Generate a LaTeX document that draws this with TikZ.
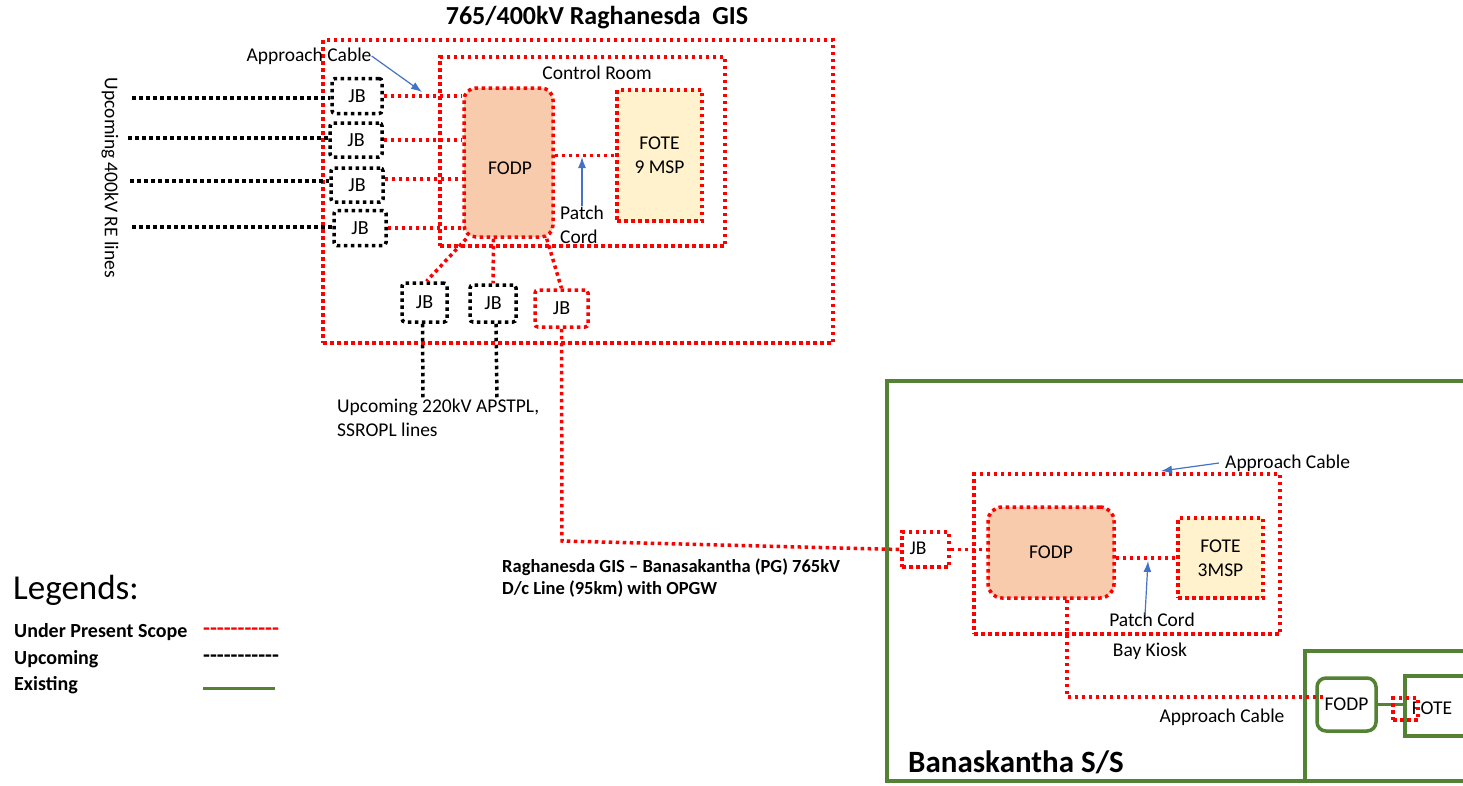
\documentclass[tikz,border=0pt]{standalone}
\usepackage{fontspec}
\setmainfont{Carlito}
\usetikzlibrary{arrows.meta}
\definecolor{exgreen}{HTML}{548235}
\definecolor{peach}{HTML}{F8CBAD}
\definecolor{cream}{HTML}{FFF2CC}
\definecolor{arrowblue}{HTML}{4472C4}
\begin{document}
\begin{tikzpicture}[x=1pt,y=-1pt,
  reddot/.style={draw=red,line width=3.5pt,dash pattern=on 3.5pt off 3.5pt},
  blkdot/.style={draw=black,line width=3.5pt,dash pattern=on 3.5pt off 3.5pt},
  exline/.style={draw=exgreen,line width=3.5pt},
  lbl/.style={inner sep=0pt,font=\fontsize{19.5}{24}\selectfont},
  boldlbl/.style={inner sep=0pt,font=\bfseries\fontsize{18.5}{22}\selectfont},
  legtxt/.style={inner sep=0pt,anchor=west,font=\bfseries\fontsize{20}{24}\selectfont},
  bluearrow/.style={draw=arrowblue,line width=1.2pt,-{Latex[length=11pt,width=8pt]}},
  jbbox/.style={inner sep=0pt,rounded corners=3pt,font=\fontsize{20}{24}\selectfont},
  sz/.style 2 args={minimum width=#1,minimum height=#2}
]
\useasboundingbox (0,0) rectangle (1463,785);
\clip (0,0) rectangle (1463,785);

% ---------- Raghanesda GIS ----------
\node[inner sep=0pt,font=\bfseries\fontsize{26}{30}\selectfont] (title) at (597,18) {765/400kV Raghanesda\ \ GIS};
\node[reddot,sz={510pt}{303pt},inner sep=0pt] (outer) at (578,191.5) {};
\node[reddot,sz={285pt}{189pt},inner sep=0pt] (cr) at (582.5,151.5) {};
\node[lbl] (crlbl) at (597,73) {Control Room};

\node[reddot,fill=peach,rounded corners=12pt,sz={89pt}{149pt},inner sep=0pt] (fodp) at (508.5,162.5) {};
\node[lbl] (fodpt) at (510,168) {FODP};
\node[reddot,fill=cream,sz={85pt}{131pt},inner sep=0pt,align=center,font=\fontsize{19.5}{24}\selectfont] (fote) at (659.5,155.5) {FOTE\\9 MSP};
\draw[reddot] (fodp.east |- fote.west) -- (fote.west);
\node[lbl,align=left] (pc1) at (582,225) {Patch\\Cord};
\coordinate (pc1tip) at (582,157);
\draw[bluearrow] (pc1.north) -- (pc1tip);

% left junction boxes
\node[jbbox,blkdot,sz={50pt}{35pt}] (jb1) at (357,96) {JB};
\node[jbbox,blkdot,sz={52pt}{34pt}] (jb2) at (356,140) {JB};
\node[jbbox,blkdot,sz={52pt}{34pt}] (jb3) at (357,185) {JB};
\node[jbbox,blkdot,sz={52pt}{35pt}] (jb4) at (360,228) {JB};

\coordinate (l1) at (132,98);
\coordinate (l2) at (128,138);
\coordinate (l3) at (130,181);
\coordinate (l4) at (132,227);
\draw[blkdot] (l1) -- (l1 -| jb1.west);
\draw[blkdot] (l2) -- (l2 -| jb2.west);
\draw[blkdot] (l3) -- (l3 -| jb3.west);
\draw[blkdot] (l4) -- (l4 -| jb4.west);

\draw[reddot] (jb1.east) -- (jb1.east -| fodp.west);
\draw[reddot] (jb2.east) -- (jb2.east -| fodp.west);
\draw[reddot] (jb3.east |- 0,179) -- (fodp.west |- 0,179);
\draw[reddot] (jb4.east) -- (jb4.east -| fodp.west);

\node[lbl,rotate=-90] (up400) at (110,178) {Upcoming 400kV RE lines};

\node[lbl] (ac1) at (309,56) {Approach Cable};
\coordinate (ac1tip) at (422,92);
\draw[bluearrow] (ac1.east) -- (ac1tip);

% bottom junction boxes
\node[jbbox,blkdot,sz={45pt}{39pt}] (jb5) at (424.5,302.5) {JB};
\node[jbbox,blkdot,sz={46pt}{37pt}] (jb6) at (493,303.5) {JB};
\node[jbbox,reddot,sz={53pt}{37pt}] (jb7) at (561.5,308.5) {JB};

\draw[reddot] ([xshift=4pt]fodp.south west) -- ([xshift=2pt]jb5.north);
\draw[reddot] ([xshift=-15pt]fodp.south) -- (jb6.north);
\draw[reddot] ([xshift=-8pt]fodp.south east) -- (jb7.north);

\coordinate (e5) at (423,400);
\coordinate (e6) at (497,400);
\draw[blkdot] ([xshift=-2pt]jb5.south) -- (e5);
\draw[blkdot] ([xshift=3pt]jb6.south) -- (e6);
\node[lbl,align=left,anchor=north west] (up220) at (337,399) {Upcoming 220kV APSTPL,\\SSROPL lines};

% ---------- line to Banaskantha ----------
\node[jbbox,reddot,rounded corners=0pt,sz={47pt}{35pt}] (jbB) at (925.5,549.5) {};
\node[lbl] (jbBt) at (918,548) {JB};
\coordinate (bend) at (562,541);
\draw[reddot] (jb7.south) -- (bend) -- (jbB.west);

\node[boldlbl,align=left,anchor=north west] (linelbl) at (502,559) {Raghanesda GIS -- Banasakantha (PG) 765kV\\D/c Line (95km) with OPGW};

% ---------- Banaskantha S/S ----------
\draw[exline] (1475,381) -- (887,381) -- (887,781) -- (1475,781);
\node[inner sep=0pt,anchor=west,font=\bfseries\fontsize{31}{36}\selectfont] (bss) at (908,762) {Banaskantha S/S};

\node[reddot,sz={306pt}{160pt},inner sep=0pt] (bk) at (1127,554) {};
\node[lbl] (bklbl) at (1150,651) {Bay Kiosk};

\node[reddot,fill=peach,rounded corners=14pt,sz={126pt}{91pt},inner sep=0pt,font=\fontsize{19.5}{24}\selectfont] (fodp2) at (1051,552.5) {FODP};
\node[reddot,fill=cream,sz={85pt}{80pt},inner sep=0pt,align=center,font=\fontsize{19.5}{24}\selectfont] (fote2) at (1220.5,558) {FOTE\\3MSP};
\draw[reddot] (jbB.east) -- (jbB.east -| fodp2.west);
\draw[reddot] (fodp2.east |- fote2.west) -- (fote2.west);

\node[lbl,anchor=north] (pc2) at (1152,613) {Patch Cord};
\coordinate (pc2base) at (1145,615);
\coordinate (pc2tip) at (1148,561);
\draw[bluearrow] (pc2base) -- (pc2tip);

\node[lbl,anchor=west] (ac2) at (1225,463) {Approach Cable};
\coordinate (ac2tip) at (1161,471);
\draw[bluearrow] ([xshift=-6pt]ac2.west) -- (ac2tip);

% existing equipment
\draw[exline] (1475,651) -- (1305,651) -- (1305,781);
\node[draw=exgreen,line width=3.5pt,rounded corners=9pt,sz={59pt}{53pt},inner sep=0pt,font=\fontsize{19.5}{24}\selectfont] (sfodp) at (1346.5,704.5) {FODP};
\node[draw=exgreen,line width=3.5pt,sz={80pt}{60pt},inner sep=0pt] (sfote) at (1445,706) {};
\node[lbl] (sfotet) at (1432,708) {FOTE};
\draw[exline] (sfodp.east) -- (sfodp.east -| sfote.west);
\node[reddot,sz={25pt}{22pt},inner sep=0pt] (pcx) at (1405.5,709) {};

\coordinate (dn) at (1067,697);
\coordinate (ac3end) at (1326,697);
\draw[reddot] (fodp2.south -| dn) -- (dn) -- (ac3end);
\node[lbl] (ac3) at (1222,717) {Approach Cable};

% ---------- legend ----------
\node[inner sep=0pt,anchor=west,font=\fontsize{35}{40}\selectfont] (leg) at (13,590) {Legends:};
\node[legtxt] (lg1) at (14,632) {Under Present Scope};
\node[legtxt] (lg2) at (14,659) {Upcoming};
\node[legtxt] (lg3) at (14,685) {Existing};
\node[legtxt,text=red,font=\bfseries\fontsize{22.5}{24}\selectfont] (lg1d) at (203,632) {-{}-{}-{}-{}-{}-{}-{}-{}-{}-{}-};
\node[legtxt,font=\bfseries\fontsize{22.5}{24}\selectfont] (lg2d) at (203,659) {-{}-{}-{}-{}-{}-{}-{}-{}-{}-{}-};
\coordinate (lg3a) at (203,688);
\coordinate (lg3b) at (275,688);
\draw[draw=exgreen,line width=3pt] (lg3a) -- (lg3b);
\end{tikzpicture}
\end{document}
